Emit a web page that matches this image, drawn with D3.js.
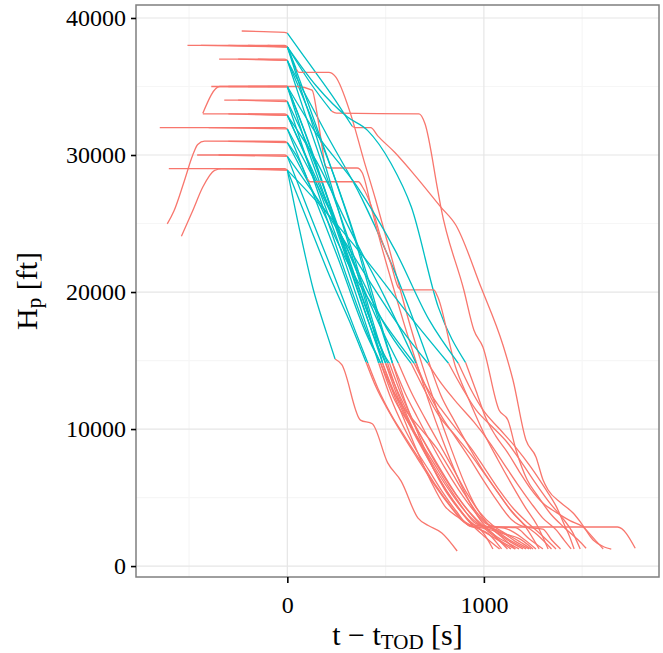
<!DOCTYPE html>
<html>
<head>
<meta charset="utf-8">
<script src="https://cdn.jsdelivr.net/npm/d3@7"></script>
<style>
body { margin: 0; background: #fff; }
svg text { font-family: "Liberation Serif", "Times New Roman", serif; fill: #000; }
</style>
</head>
<body>
<svg id="chart" width="663" height="653"></svg>
<script>
// t - t_TOD [s], Hp [ft]; one entry per flight, same order in all three lists
var cruiseLegs = [
  [[-232, 39050], [-120, 39000], [-15, 38950], [0, 38900]],
  [[-508, 38000], [-15, 38000], [0, 37900]],
  [[-440, 38000], [0, 37900]],
  [[-300, 38000], [0, 37900]],
  [[-347, 37000], [-15, 37000], [0, 36900]],
  [[-250, 37000], [0, 36900]],
  [[-387, 35000], [0, 35000]],
  [[-430, 33050], [-344, 35000], [0, 35000]],
  [[-200, 35000], [0, 35000]],
  [[-100, 35000], [0, 35000]],
  [[-321, 34000], [-15, 34000], [0, 33900]],
  [[-430, 33000], [-15, 33000], [0, 32900]],
  [[-300, 33000], [0, 32900]],
  [[-649, 32000], [-15, 32000], [0, 31900]],
  [[-400, 32000], [0, 31900]],
  [[-611, 24970], [-577, 25910], [-525, 28070], [-482, 29960], [-456, 30770], [-421, 31010], [-15, 31000], [0, 30900]],
  [[-300, 31000], [0, 30900]],
  [[-459, 30000], [-15, 30000], [0, 29900]],
  [[-350, 30000], [0, 29900]],
  [[-603, 29000], [-15, 29000], [0, 28900]],
  [[-539, 24070], [-482, 25910], [-430, 27660], [-370, 28880], [-335, 28990], [0, 28900]],
  [[-200, 29000], [0, 28900]],
  [[-150, 37000], [0, 36900]],
  [[-300, 35000], [0, 35000]],
  [[-200, 38000], [0, 37900]],
  [[-250, 34000], [0, 33900]],
  [[-200, 33000], [0, 32900]],
  [[-100, 38000], [0, 37900]]
];

var upperDescents = [
  [[0, 38900], [110, 36700], [230, 34300], [330, 32100]],
  [[0, 37900], [120, 35200], [225, 33200]],
  [[0, 37900], [45, 36300]],
  [[0, 37900], [150, 35000], [306, 32770], [408, 31800], [527, 29400], [631, 26200], [768, 18900], [907, 14850]],
  [[0, 36900], [100, 33500], [250, 28000], [400, 21500], [510, 16000], [535, 14800]],
  [[0, 36900], [200, 31500], [380, 26800], [560, 21000], [720, 14900]],
  [],
  [[0, 35000], [80, 32000], [200, 27000], [350, 20500], [450, 16300], [485, 14800]],
  [[0, 35000], [120, 30500], [260, 24500], [400, 18800], [510, 14800]],
  [[0, 35000], [90, 31000], [220, 25800], [350, 20400], [450, 16400], [500, 14800]],
  [[0, 33900], [100, 30800], [240, 25500], [380, 19700], [490, 15500], [520, 14800]],
  [[0, 32900], [110, 29300], [250, 24000], [380, 18500], [465, 14800]],
  [[0, 32900], [140, 28500], [300, 23300], [450, 18200], [565, 14800]],
  [[0, 31900], [120, 27600], [260, 22400], [400, 17000], [475, 14800]],
  [[0, 31900], [180, 27000], [360, 21500], [520, 17000], [630, 14800]],
  [[0, 30900], [60, 29600], [100, 28300]],
  [[0, 30900], [160, 26500], [330, 21500], [500, 17600], [645, 14800]],
  [[0, 29900], [100, 26200], [230, 21500], [350, 17000], [410, 14800]],
  [[0, 29900], [200, 25800], [400, 21200], [580, 17300], [715, 14800]],
  [[0, 28900], [62, 24560], [131, 20240], [200, 17000], [243, 15110]],
  [[0, 28900], [100, 25300], [220, 21000], [330, 17400], [400, 14900]],
  [[0, 28900], [200, 25800], [420, 22000], [620, 18300], [820, 14800]],
  [[0, 36900], [90, 33000], [210, 28000], [330, 23000], [440, 17600], [500, 14800]],
  [[0, 35000], [150, 31500], [350, 27800], [550, 23000], [720, 18000], [870, 14800]],
  [[0, 37900], [80, 34800], [200, 30000], [330, 24500], [450, 18600], [535, 14800]],
  [[0, 33900], [80, 30500], [200, 25400], [330, 20000], [430, 16200], [475, 14800]],
  [[0, 32900], [150, 29500], [320, 24500], [500, 19500], [655, 14800]],
  [[0, 37900], [60, 35200], [160, 30800], [280, 25000], [400, 19200], [485, 14800]]
];

var lowerDescents = [
  [[330, 32100], [345, 32000], [424, 32000], [460, 31400], [546, 30200], [650, 28500], [781, 26200], [857, 24890], [985, 20360], [1097, 16130], [1148, 13580], [1214, 9200], [1265, 7960], [1301, 6280], [1327, 5550], [1393, 4600], [1454, 3870], [1495, 3140], [1556, 1900], [1612, 1390], [1648, 1240]],
  [[225, 33200], [250, 33050], [670, 33000], [700, 32300], [765, 27450], [781, 26200], [898, 20150], [949, 17230], [995, 15990], [1077, 11390], [1122, 10660], [1165, 8400], [1220, 6300], [1270, 5200], [1340, 3800], [1410, 2800], [1480, 1900], [1520, 1300]],
  [[45, 36300], [60, 36030], [211, 36030], [245, 35720], [321, 33040], [389, 29630], [450, 26700], [510, 23600], [570, 20400], [630, 17300], [690, 14500], [760, 11500], [830, 8700], [900, 6100], [960, 4300], [1030, 2900], [1100, 2000], [1160, 1250]],
  [[907, 14850], [960, 12800], [1010, 10800], [1060, 9500], [1120, 8300], [1180, 6900], [1240, 5600], [1300, 4600], [1370, 3900], [1440, 3300], [1500, 2900], [1560, 2000], [1607, 1250]],
  [[535, 14800], [600, 12000], [670, 9500], [740, 7200], [800, 5600], [870, 4200], [940, 3000], [1000, 2200], [1080, 1250]],
  [[720, 14900], [780, 12500], [850, 10600], [920, 8800], [990, 7100], [1060, 5600], [1130, 4200], [1200, 3100], [1270, 2300], [1344, 1250]],
  [[0, 35000], [50, 35000], [126, 34740], [151, 33040], [177, 30600], [194, 29150], [215, 29050], [355, 29050], [381, 28700], [430, 26000], [480, 23300], [540, 20300], [600, 17400], [660, 14700], [720, 12000], [790, 9200], [860, 6700], [930, 4600], [990, 3200], [1050, 2300], [1120, 1250]],
  [[485, 14800], [540, 12600], [600, 10500], [660, 8400], [730, 6200], [800, 4400], [867, 3580], [950, 2850], [1680, 2850], [1770, 1300]],
  [[510, 14800], [570, 12300], [640, 10000], [710, 8000], [780, 6200], [850, 4600], [920, 3400], [990, 2600], [1060, 2000], [1138, 1250]],
  [[500, 14800], [560, 12800], [620, 11000], [690, 9200], [760, 7400], [830, 5800], [900, 4400], [970, 3200], [1040, 2300], [1100, 1700], [1160, 1250]],
  [[520, 14800], [580, 12500], [650, 10300], [720, 8500], [790, 6800], [860, 5200], [930, 3900], [1000, 2900], [1070, 2100], [1120, 1700], [1179, 1250]],
  [[465, 14800], [520, 12500], [590, 10200], [650, 8600], [720, 7000], [790, 5400], [860, 4000], [930, 2900], [980, 2800], [1060, 2500], [1120, 1900], [1199, 1250]],
  [[565, 14800], [630, 12700], [700, 10800], [770, 9000], [840, 7200], [910, 5400], [980, 3900], [1050, 2900], [1120, 2300], [1180, 1800], [1240, 1250]],
  [[475, 14800], [530, 13000], [600, 11400], [680, 10000], [760, 8600], [830, 7000], [900, 5300], [970, 3800], [1040, 2900], [1120, 2700], [1200, 2000], [1265, 1250]],
  [[630, 14800], [700, 12800], [770, 11000], [850, 9600], [930, 8200], [1000, 6800], [1070, 5400], [1140, 4000], [1210, 2900], [1281, 1250]],
  [[100, 28300], [115, 28050], [362, 28050], [381, 27700], [440, 25740], [474, 24040], [526, 22100], [566, 20300], [585, 20150], [745, 20150], [765, 19650], [855, 14570], [924, 12140], [1000, 9700], [1070, 7800], [1140, 6000], [1210, 4300], [1270, 3000], [1327, 1250]],
  [[645, 14800], [710, 13000], [780, 11500], [860, 10000], [940, 8500], [1010, 7000], [1080, 5500], [1150, 4200], [1220, 3200], [1290, 2300], [1367, 1250]],
  [[410, 14800], [460, 13000], [530, 11000], [600, 9400], [680, 7600], [750, 6000], [830, 4400], [900, 3200], [980, 2700], [1046, 1250]],
  [[715, 14800], [790, 13200], [870, 11800], [950, 10500], [1030, 9000], [1100, 7500], [1170, 6000], [1240, 4600], [1300, 3500], [1370, 2600], [1408, 1900], [1444, 1250]],
  [[243, 15110], [277, 14700], [372, 10655], [432, 10385], [510, 7550], [579, 6200], [665, 3500], [717, 2960], [786, 2420], [864, 1100]],
  [[400, 14900], [450, 13100], [520, 11200], [590, 9500], [660, 7900], [740, 6100], [810, 4700], [880, 3500], [950, 2850], [1020, 2400], [1090, 1250]],
  [[820, 14800], [890, 13000], [960, 11400], [1040, 10200], [1120, 9000], [1190, 7600], [1260, 6100], [1330, 4700], [1400, 3500], [1450, 2500], [1490, 1250]],
  [[500, 14800], [560, 12400], [630, 10200], [700, 8400], [770, 6700], [840, 5200], [910, 3900], [980, 3000], [1050, 2700], [1120, 2000], [1215, 1250]],
  [[870, 14800], [930, 13000], [1000, 11300], [1080, 10000], [1160, 8700], [1240, 7200], [1310, 5700], [1370, 4300], [1410, 3000], [1435, 2200], [1459, 1250]],
  [[535, 14800], [600, 12600], [660, 10900], [730, 9000], [800, 7200], [870, 5600], [940, 4200], [1010, 3100], [1080, 2850], [1160, 2800], [1230, 2000], [1300, 1250]],
  [[475, 14800], [540, 12300], [610, 10600], [680, 9000], [750, 7400], [820, 5800], [890, 4300], [960, 3100], [1030, 2850], [1100, 2400], [1160, 1800], [1230, 1250]],
  [[655, 14800], [720, 12600], [790, 10800], [860, 9300], [930, 7800], [1000, 6200], [1070, 4700], [1140, 3400], [1210, 2850], [1300, 2700], [1345, 1900], [1390, 1250]],
  [[485, 14800], [540, 12800], [600, 10900], [670, 9000], [740, 7200], [810, 5500], [880, 4100], [950, 3000], [1020, 2850], [1090, 2400], [1180, 2000], [1250, 1250]]
];

var xTicks = [0, 1000];
var yTicks = [0, 10000, 20000, 30000, 40000];
var xMinor = [-500, 500, 1500];
var yMinor = [5000, 15000, 25000, 35000];
var phaseColors = { cruise: "#F8766D", descent: "#00BFC4" };

var svg = d3.select("#chart"),
    margin = { top: 5, right: 4, bottom: 76, left: 136 },
    width = +svg.attr("width") - margin.left - margin.right,
    height = +svg.attr("height") - margin.top - margin.bottom,
    g = svg.append("g").attr("transform", "translate(" + margin.left + "," + margin.top + ")");

// ggplot-like 5% expansion of the data range
var allPts = d3.merge([d3.merge(cruiseLegs), d3.merge(upperDescents), d3.merge(lowerDescents)]);
var tExt = d3.extent(allPts, function (d) { return d[0]; }),
    hExt = d3.extent(allPts, function (d) { return d[1]; });
var tPad = (tExt[1] - tExt[0]) * 0.05,
    hPad = (hExt[1] - hExt[0]) * 0.05;

var x = d3.scaleLinear().domain([tExt[0] - tPad, tExt[1] + tPad]).range([0, width]);
var y = d3.scaleLinear().domain([hExt[0] - hPad, hExt[1] + hPad]).range([height, 0]);

// grid
g.append("g").selectAll("line").data(xMinor).enter().append("line")
    .attr("x1", function (d) { return x(d); }).attr("x2", function (d) { return x(d); })
    .attr("y1", 0).attr("y2", height)
    .attr("stroke", "#f6f6f6").attr("stroke-width", 1.2);
g.append("g").selectAll("line").data(yMinor).enter().append("line")
    .attr("y1", function (d) { return y(d); }).attr("y2", function (d) { return y(d); })
    .attr("x1", 0).attr("x2", width)
    .attr("stroke", "#f6f6f6").attr("stroke-width", 1.2);
g.append("g").selectAll("line").data(xTicks).enter().append("line")
    .attr("x1", function (d) { return x(d); }).attr("x2", function (d) { return x(d); })
    .attr("y1", 0).attr("y2", height)
    .attr("stroke", "#e6e6e6").attr("stroke-width", 1.2);
g.append("g").selectAll("line").data(yTicks).enter().append("line")
    .attr("y1", function (d) { return y(d); }).attr("y2", function (d) { return y(d); })
    .attr("x1", 0).attr("x2", width)
    .attr("stroke", "#e6e6e6").attr("stroke-width", 1.2);

var line = d3.line()
    .x(function (d) { return x(d[0]); })
    .y(function (d) { return y(d[1]); })
    .curve(d3.curveMonotoneX);

var paths = g.append("g").attr("fill", "none").attr("stroke-width", 1.3)
    .attr("stroke-linejoin", "round");

cruiseLegs.forEach(function (leg, i) {
    var segs = [
        { pts: leg, c: phaseColors.cruise },
        { pts: upperDescents[i], c: phaseColors.descent },
        { pts: lowerDescents[i], c: phaseColors.cruise }
    ];
    segs.forEach(function (s) {
        if (s.pts.length < 2) return;
        paths.append("path").attr("d", line(s.pts)).attr("stroke", s.c);
    });
});

// panel border
g.append("rect")
    .attr("x", 0).attr("y", 0).attr("width", width).attr("height", height)
    .attr("fill", "none").attr("stroke", "#7f7f7f").attr("stroke-width", 1.5);

// axes
var axisY = g.append("g")
    .call(d3.axisLeft(y).tickValues(yTicks).tickSize(5).tickPadding(5).tickFormat(d3.format("d")));
axisY.select(".domain").remove();
axisY.selectAll("line").attr("stroke", "#000").attr("stroke-width", 1.6);
axisY.selectAll("text").attr("font-size", "24px").attr("font-family", "Liberation Serif");

var axisX = g.append("g")
    .attr("transform", "translate(0," + height + ")")
    .call(d3.axisBottom(x).tickValues(xTicks).tickSize(6).tickPadding(13).tickFormat(d3.format("d")));
axisX.select(".domain").remove();
axisX.selectAll("line").attr("stroke", "#000").attr("stroke-width", 1.6);
axisX.selectAll("text").attr("font-size", "24px").attr("font-family", "Liberation Serif");

// axis titles
var xt = svg.append("text")
    .attr("x", margin.left + width / 2).attr("y", 645)
    .attr("text-anchor", "middle").attr("font-size", "30px");
xt.append("tspan").text("t \u2212 t");
xt.append("tspan").attr("font-size", "21px").attr("dy", 4).text("TOD");
xt.append("tspan").attr("dy", -4).text(" [s]");

var yt = svg.append("text")
    .attr("transform", "translate(37," + (margin.top + height / 2) + ") rotate(-90)")
    .attr("text-anchor", "middle").attr("font-size", "30px");
yt.append("tspan").text("H");
yt.append("tspan").attr("font-size", "21px").attr("dy", 4).text("p");
yt.append("tspan").attr("dy", -4).text(" [ft]");
</script>
</body>
</html>
